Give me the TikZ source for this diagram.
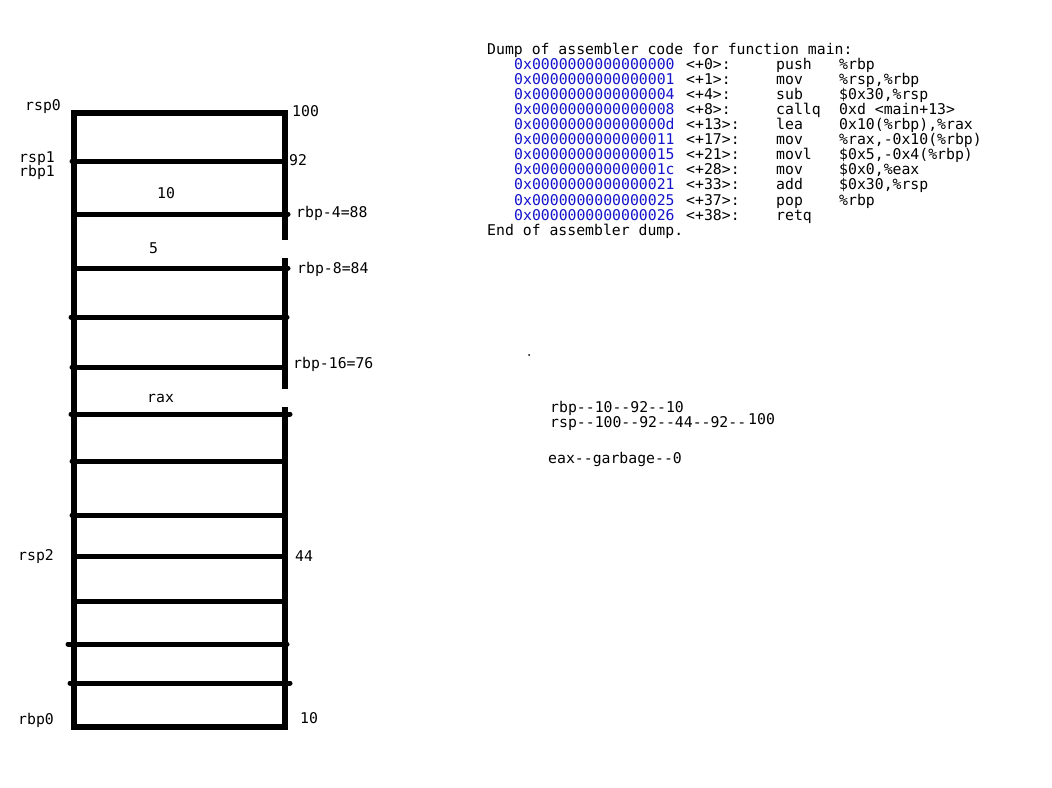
\documentclass[tikz,border=0pt]{standalone}
\usepackage{fontspec}
\setmonofont{DejaVu Sans Mono}
\definecolor{addrblue}{RGB}{20,20,205}
\begin{document}
\begin{tikzpicture}[x=1pt,y=-1pt,
  txt/.style={font=\ttfamily\fontsize{14.8}{16}\selectfont, inner sep=0pt, anchor=base west},
  addr/.style={txt, text=addrblue},
  wall/.style={line width=5.2pt, line join=miter},
  rung/.style={line width=5pt, line cap=round}]
\useasboundingbox (0,0) rectangle (1052,787);
\fill[white] (0,0) rectangle (1052,787);

% stack frame
\draw[wall] (285,240) -- (285,113) -- (74,113) -- (74,727) -- (285,727) -- (285,407);
\draw[wall] (285,258) -- (285,389);
% rows
\draw[rung] (72,161) -- (285,161);
\draw[rung] (76,214) -- (288,214);
\draw[rung] (76,268) -- (288,268);
\draw[rung] (71,317) -- (287,317);
\draw[rung] (72,367) -- (284,367);
\draw[rung] (71,414) -- (290,414);
\draw[rung] (72,461) -- (284,461);
\draw[rung] (72,515) -- (284,515);
\draw[rung] (76,556) -- (284,556);
\draw[rung] (76,601) -- (284,601);
\draw[rung] (68,644) -- (287,644);
\draw[rung] (70,683) -- (290,683);

% stack labels
\node[txt] (rsp0) at (25,110) {rsp0};
\node[txt] (v100) at (292,116) {100};
\node[txt] (rsp1) at (19,162) {rsp1};
\node[txt] (rbp1) at (19,176) {rbp1};
\node[txt] (v92) at (289,165) {92};
\node[txt] (c10) at (157,198) {10};
\node[txt] (rbp4) at (296,217) {rbp-4=88};
\node[txt] (c5) at (149,253) {5};
\node[txt] (rbp8) at (297,273) {rbp-8=84};
\node[txt] (rbp16) at (293,368) {rbp-16=76};
\node[txt] (crax) at (147,402) {rax};
\node[txt] (rsp2) at (18,560) {rsp2};
\node[txt] (v44) at (295,561) {44};
\node[txt] (rbp0) at (18,724) {rbp0};
\node[txt] (v10) at (300,723) {10};

% register history
\fill (529,355) circle (1);
\node[txt] (hrbp) at (550,412) {rbp--10--92--10};
\node[txt] (hrsp) at (550,427) {rsp--100--92--44--92--};
\node[txt] (hrspb) at (748,424) {100};
\node[txt] (heax) at (548,463) {eax--garbage--0};

% assembler dump
\node[txt] (head) at (487,54) {Dump of assembler code for function main:};
\node[addr] (a0) at (514,69.1) {0x0000000000000000};
\node[txt] (o0) at (686,69.1) {<+0>:};
\node[txt] (m0) at (776,69.1) {push};
\node[txt] (p0) at (839,69.1) {\%rbp};
\node[addr] (a1) at (514,84.2) {0x0000000000000001};
\node[txt] (o1) at (686,84.2) {<+1>:};
\node[txt] (m1) at (776,84.2) {mov};
\node[txt] (p1) at (839,84.2) {\%rsp,\%rbp};
\node[addr] (a2) at (514,99.3) {0x0000000000000004};
\node[txt] (o2) at (686,99.3) {<+4>:};
\node[txt] (m2) at (776,99.3) {sub};
\node[txt] (p2) at (839,99.3) {\$0x30,\%rsp};
\node[addr] (a3) at (514,114.4) {0x0000000000000008};
\node[txt] (o3) at (686,114.4) {<+8>:};
\node[txt] (m3) at (776,114.4) {callq};
\node[txt] (p3) at (839,114.4) {0xd <main+13>};
\node[addr] (a4) at (514,129.5) {0x000000000000000d};
\node[txt] (o4) at (686,129.5) {<+13>:};
\node[txt] (m4) at (776,129.5) {lea};
\node[txt] (p4) at (839,129.5) {0x10(\%rbp),\%rax};
\node[addr] (a5) at (514,144.6) {0x0000000000000011};
\node[txt] (o5) at (686,144.6) {<+17>:};
\node[txt] (m5) at (776,144.6) {mov};
\node[txt] (p5) at (839,144.6) {\%rax,-0x10(\%rbp)};
\node[addr] (a6) at (514,159.7) {0x0000000000000015};
\node[txt] (o6) at (686,159.7) {<+21>:};
\node[txt] (m6) at (776,159.7) {movl};
\node[txt] (p6) at (839,159.7) {\$0x5,-0x4(\%rbp)};
\node[addr] (a7) at (514,174.8) {0x000000000000001c};
\node[txt] (o7) at (686,174.8) {<+28>:};
\node[txt] (m7) at (776,174.8) {mov};
\node[txt] (p7) at (839,174.8) {\$0x0,\%eax};
\node[addr] (a8) at (514,189.9) {0x0000000000000021};
\node[txt] (o8) at (686,189.9) {<+33>:};
\node[txt] (m8) at (776,189.9) {add};
\node[txt] (p8) at (839,189.9) {\$0x30,\%rsp};
\node[addr] (a9) at (514,205) {0x0000000000000025};
\node[txt] (o9) at (686,205) {<+37>:};
\node[txt] (m9) at (776,205) {pop};
\node[txt] (p9) at (839,205) {\%rbp};
\node[addr] (a10) at (514,220.1) {0x0000000000000026};
\node[txt] (o10) at (686,220.1) {<+38>:};
\node[txt] (m10) at (776,220.1) {retq};
\node[txt] (foot) at (487,235.2) {End of assembler dump.};
\end{tikzpicture}
\end{document}
